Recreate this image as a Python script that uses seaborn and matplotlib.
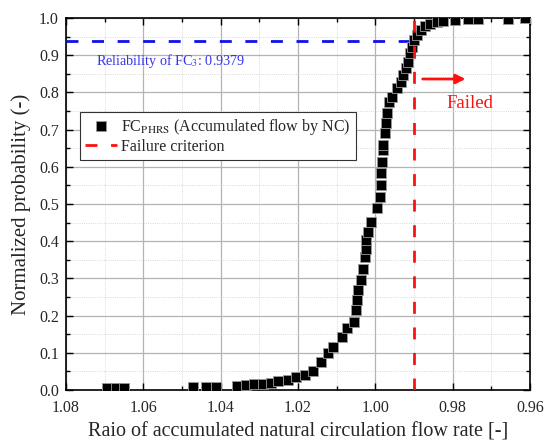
import numpy as np
import pandas as pd
import matplotlib
matplotlib.use("Agg")
import matplotlib.pyplot as plt
from matplotlib.ticker import MultipleLocator
import seaborn as sns

# ---- data ----
flow_ratio = [1.0694, 1.0671, 1.0650, 1.0472, 1.0438, 1.0412, 1.0358, 1.0335, 1.0314,
              1.0291, 1.0270, 1.0252, 1.0226, 1.0205, 1.0182, 1.0162, 1.0141, 1.0122,
              1.0109, 1.0087, 1.0074, 1.0055, 1.0049, 1.0047, 1.0044, 1.0038, 1.0033,
              1.0027, 1.0025, 1.0024, 1.0018, 1.0012, 0.9995, 0.9988, 0.9985, 0.9985,
              0.9983, 0.9981, 0.9980, 0.9975, 0.9972, 0.9969, 0.9964, 0.9958, 0.9945,
              0.9935, 0.9928, 0.9921, 0.9915, 0.9911, 0.9906, 0.9900, 0.9893, 0.9883,
              0.9872, 0.9859, 0.9841, 0.9825, 0.9794, 0.9760, 0.9735, 0.9657, 0.9613]
probability = [0.005, 0.005, 0.006, 0.007, 0.008, 0.009, 0.011, 0.013, 0.015,
               0.016, 0.018, 0.023, 0.027, 0.035, 0.040, 0.052, 0.076, 0.099,
               0.116, 0.142, 0.166, 0.184, 0.215, 0.242, 0.269, 0.296, 0.325,
               0.357, 0.379, 0.403, 0.424, 0.452, 0.488, 0.520, 0.551, 0.582,
               0.614, 0.645, 0.659, 0.690, 0.717, 0.744, 0.775, 0.788, 0.813,
               0.828, 0.847, 0.865, 0.882, 0.905, 0.923, 0.941, 0.954, 0.968,
               0.978, 0.984, 0.990, 0.993, 0.995, 0.997, 0.997, 0.998, 0.999]
failure_criterion = 0.99
reliability = 0.9379
series_label = r"FC$_{\mathrm{PHRS}}$ (Accumulated flow by NC)"
criterion_label = "Failure criterion"
reliability_text = r"Reliability of FC$_{3}$: 0.9379"
failed_text = "Failed"
xlabel = "Raio of accumulated natural circulation flow rate [-]"
ylabel = "Normalized probability (-)"

df = pd.DataFrame({"ratio": flow_ratio, "prob": probability})

sns.set_style("ticks")
plt.rcParams["font.family"] = ["Liberation Serif", "DejaVu Serif"]
plt.rcParams["mathtext.fontset"] = "stix"

fig = plt.figure(figsize=(5.54, 4.45), dpi=100)
ax = fig.add_axes([0.119, 0.1236, 0.838, 0.836])

ax.set_xlim(1.08, 0.96)
ax.set_ylim(0.0, 1.0)

ax.xaxis.set_major_locator(MultipleLocator(0.02))
ax.xaxis.set_minor_locator(MultipleLocator(0.01))
ax.yaxis.set_major_locator(MultipleLocator(0.1))
ax.yaxis.set_minor_locator(MultipleLocator(0.05))
ax.grid(which="major", color="#b4b4b4", lw=0.9, ls="-")
ax.grid(which="minor", color="#cccccc", lw=0.6, ls=":")
ax.set_axisbelow(True)

ax.tick_params(which="both", direction="in", top=True, right=True,
               labelsize=11.5, width=1.0, color="black")
ax.tick_params(which="major", length=5)
ax.tick_params(which="minor", length=3)
ax.tick_params(axis="x", which="major", pad=7)
ax.tick_params(axis="y", which="major", pad=5)
ax.xaxis.set_major_formatter(matplotlib.ticker.FormatStrFormatter("%.2f"))
ax.yaxis.set_major_formatter(matplotlib.ticker.FormatStrFormatter("%.1f"))
for s in ax.spines.values():
    s.set_linewidth(1.2)
    s.set_color("black")

# blue horizontal reliability line (from left edge to failure criterion)
ax.plot([1.08, failure_criterion], [reliability, reliability], color="#1010ee",
        lw=2.0, ls=(0, (4.3, 4.9)), zorder=3)

sns.scatterplot(data=df, x="ratio", y="prob", marker="s", s=50, color="black",
                edgecolor="#9a9a9a", linewidth=0.6, ax=ax, zorder=4,
                label=series_label)

ax.axvline(failure_criterion, color="#ff1010", lw=2.0, ls=(0, (4.3, 4.9)),
           zorder=5, label=criterion_label)

ax.text(1.0722, 0.884, reliability_text, color="#3535e8", fontsize=10.2,
        ha="left", va="center")

ax.annotate("", xy=(0.976, 0.836), xytext=(0.9885, 0.836),
            arrowprops=dict(arrowstyle="-|>", color="#ff1010", lw=2.0,
                            mutation_scale=14))
ax.text(0.9755, 0.771, failed_text, color="#ff1010", fontsize=13.5,
        ha="center", va="center")

ax.set_xlabel(xlabel, fontsize=14.5, labelpad=5)
ax.set_ylabel(ylabel, fontsize=15, labelpad=6)

leg = ax.legend(loc="upper left", bbox_to_anchor=(0.03, 0.748), fontsize=11.5,
                frameon=True, fancybox=False, edgecolor="#333333",
                framealpha=1.0, borderaxespad=0, handlelength=2.0,
                borderpad=0.3, labelspacing=0.15, handletextpad=0.3)
leg.get_frame().set_linewidth(0.8)

fig.savefig("out.png", dpi=100)
